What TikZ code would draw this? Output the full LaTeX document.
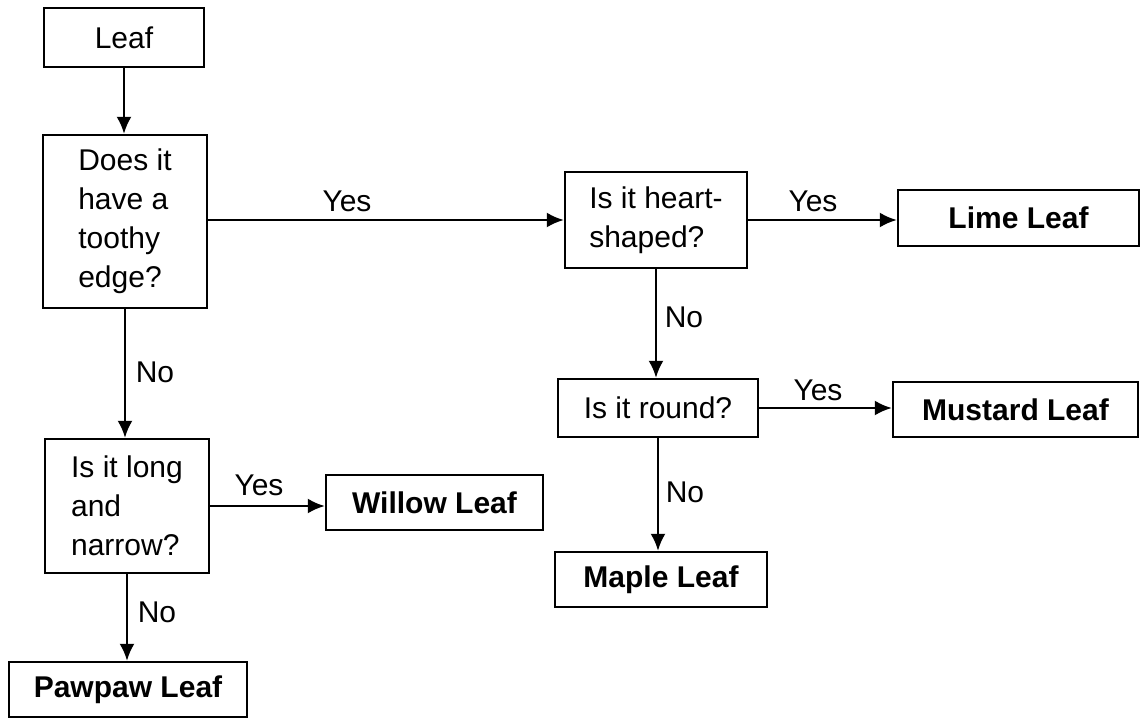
\documentclass[tikz,border=0pt]{standalone}
\usepackage{fontspec}
\setmainfont{Liberation Sans}
\usetikzlibrary{arrows.meta}
\begin{document}
\begin{tikzpicture}[x=1pt,y=-1pt,
  box/.style={draw, line width=2.4pt, inner sep=0pt, font=\fontsize{30}{39}\selectfont},
  qbox/.style={box, align=left},
  leafbox/.style={box, font=\fontsize{30}{39}\selectfont\bfseries},
  lab/.style={inner sep=0pt, font=\fontsize{30}{39}\selectfont},
  arr/.style={line width=2.4pt, -{Latex[length=17pt,width=15pt]}}]
\useasboundingbox (0,0) rectangle (1141,718);
% boxes
\node[box, minimum width=160pt, minimum height=59pt] (leaf) at (124,37.5) {Leaf};
\node[qbox, minimum width=164pt, minimum height=173pt] (toothy) at (125,221.5) {Does it\\have a\\toothy\\edge?};
\node[qbox, minimum width=182pt, minimum height=96pt] (heart) at (656,220) {Is it heart-\\shaped?};
\node[leafbox, minimum width=241pt, minimum height=56pt] (lime) at (1018.5,218) {Lime Leaf};
\node[qbox, minimum width=200pt, minimum height=58pt] (round) at (658,408) {Is it round?};
\node[leafbox, minimum width=245pt, minimum height=55pt] (mustard) at (1015.5,409.5) {Mustard Leaf};
\node[qbox, minimum width=164pt, minimum height=134pt] (long) at (127,506) {Is it long\\and\\narrow?};
\node[leafbox, minimum width=217pt, minimum height=55pt] (willow) at (434.5,502.5) {Willow Leaf};
\node[leafbox, minimum width=212pt, minimum height=55pt] (maple) at (661,579.5) {Maple Leaf};
\node[leafbox, minimum width=238pt, minimum height=55pt] (pawpaw) at (128,689.5) {Pawpaw Leaf};
% connectors
\draw[arr] (leaf.south) -- (leaf.south |- toothy.north);
\draw[arr] (toothy.east |- heart.west) -- (heart.west);
\draw[arr] (heart.east) -- (heart.east -| lime.west);
\draw[arr] (heart.south) -- (heart.south |- round.north);
\draw[arr] (round.east) -- (round.east -| mustard.west);
\draw[arr] (round.south) -- (round.south |- maple.north);
\draw[arr] (toothy.south) -- (toothy.south |- long.north);
\draw[arr] (long.east) -- (long.east -| willow.west);
\draw[arr] (long.south) -- (long.south |- pawpaw.north);
% labels
\node[lab] (y1) at (347,201) {Yes};
\node[lab] (y2) at (813,201) {Yes};
\node[lab] (y3) at (818,390) {Yes};
\node[lab] (y4) at (259,485) {Yes};
\node[lab] (n1) at (155,372) {No};
\node[lab] (n2) at (157,612) {No};
\node[lab] (n3) at (684,317) {No};
\node[lab] (n4) at (685,492) {No};
\end{tikzpicture}
\end{document}
